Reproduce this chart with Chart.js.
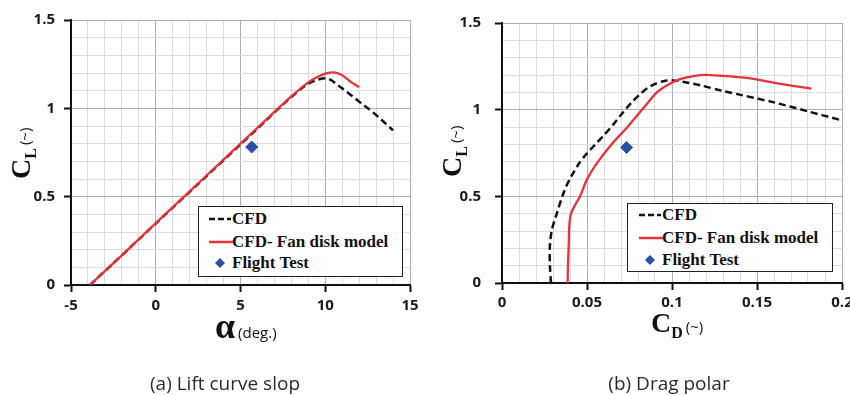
<!DOCTYPE html>
<html>
<head>
<meta charset="utf-8">
<script src="https://cdn.jsdelivr.net/npm/chart.js@4.4.1/dist/chart.umd.min.js"></script>
<style>
  html, body { margin:0; padding:0; background:#fff; width:850px; height:395px; overflow:hidden; position:relative; }
  .wrap { position:absolute; top:0; }
  .t { position:absolute; white-space:nowrap; color:#111; }
  .serif { font-family:"Liberation Serif","DejaVu Serif",serif; font-weight:bold; }
  .sans { font-family:"Open Sans","Noto Sans",sans-serif; }
  .legend { position:absolute; border:1.5px solid #222; background:#fff; box-sizing:border-box; }
  .legend .row { position:absolute; left:0; height:20px; width:100%; }
  .legend .row span { position:absolute; white-space:nowrap; font-family:"Liberation Serif",serif; font-weight:bold; font-size:17px; line-height:20px; color:#111; }
  .legend svg { position:absolute; }
  .cap { position:absolute; font-family:"Open Sans","Noto Sans",sans-serif; font-size:19px; color:#2a2a2a; white-space:nowrap; transform:translateX(-50%); }
</style>
</head>
<body>
<div class="wrap" style="left:0;width:425px;height:320px;"><canvas id="c1" width="425" height="320"></canvas></div>
<div class="wrap" style="left:425px;width:440px;height:320px;"><canvas id="c2" width="440" height="320"></canvas></div>

<!-- axis titles -->
<div class="t" style="left:215px;top:305px;"><span class="serif" style="font-size:36px;">α</span><span class="sans" style="font-size:15px;margin-left:3px;">(deg.)</span></div>
<div class="t" style="left:651px;top:307px;"><span class="serif" style="font-size:28px;">C</span><span class="serif" style="font-size:16px;position:relative;top:6px;">D</span><span class="sans" style="font-size:15px;margin-left:3px;">(~)</span></div>
<div class="t" style="left:-14px;top:128px;transform:rotate(-90deg);transform-origin:50% 50%;width:70px;"><span class="serif" style="font-size:28px;">C</span><span class="serif" style="font-size:16px;position:relative;top:6px;">L</span><span class="sans" style="font-size:15px;margin-left:3px;">(~)</span></div>
<div class="t" style="left:417px;top:126px;transform:rotate(-90deg);transform-origin:50% 50%;width:70px;"><span class="serif" style="font-size:28px;">C</span><span class="serif" style="font-size:16px;position:relative;top:6px;">L</span><span class="sans" style="font-size:15px;margin-left:3px;">(~)</span></div>

<!-- legends -->
<div class="legend" style="left:198px;top:206px;width:205px;height:71px;">
  <div class="row" style="top:2px;"><svg width="30" height="20" style="left:8px;top:0"><line x1="2" y1="10" x2="24" y2="10" stroke="#111" stroke-width="2.5" stroke-dasharray="6,3"/></svg><span style="left:33px;">CFD</span></div>
  <div class="row" style="top:25px;"><svg width="30" height="20" style="left:8px;top:0"><line x1="2" y1="10" x2="26" y2="10" stroke="#e8323c" stroke-width="2.5"/></svg><span style="left:33px;">CFD- Fan disk model</span></div>
  <div class="row" style="top:46px;"><svg width="30" height="20" style="left:8px;top:0"><polygon points="13,5 18,10 13,15 8,10" fill="#2b4fa3"/></svg><span style="left:33px;">Flight Test</span></div>
</div>
<div class="legend" style="left:627px;top:203px;width:206px;height:69px;">
  <div class="row" style="top:1px;"><svg width="30" height="20" style="left:8px;top:0"><line x1="3" y1="10" x2="25" y2="10" stroke="#111" stroke-width="2.5" stroke-dasharray="6,3"/></svg><span style="left:34px;">CFD</span></div>
  <div class="row" style="top:24px;"><svg width="30" height="20" style="left:8px;top:0"><line x1="3" y1="10" x2="27" y2="10" stroke="#e8323c" stroke-width="2.5"/></svg><span style="left:34px;">CFD- Fan disk model</span></div>
  <div class="row" style="top:46px;"><svg width="30" height="20" style="left:8px;top:0"><polygon points="14,5 19,10 14,15 9,10" fill="#2b4fa3"/></svg><span style="left:34px;">Flight Test</span></div>
</div>

<div class="cap" style="left:225px;top:370px;">(a) Lift curve slop</div>
<div class="cap" style="left:669px;top:370px;">(b) Drag polar</div>

<script>
// ---------- (a) Lift curve: CL vs alpha ----------
const liftCfdAlpha = [-3.88, -2, 0, 2, 4, 6, 8, 9, 9.5, 10, 11, 12, 13, 14];
const liftCfdCL    = [0, 0.168, 0.348, 0.527, 0.706, 0.885, 1.064, 1.140, 1.160, 1.170, 1.113, 1.038, 0.962, 0.875];
const liftFanAlpha = [-3.88, -2, 0, 2, 4, 6, 8, 9, 9.5, 10, 10.5, 11, 11.5, 12];
const liftFanCL    = [0, 0.168, 0.350, 0.530, 0.710, 0.890, 1.068, 1.147, 1.176, 1.196, 1.204, 1.187, 1.150, 1.120];
const liftFlightAlpha = [5.66];
const liftFlightCL    = [0.781];
const liftXTicks = [-5, 0, 5, 10, 15];
const liftYTicks = [0, 0.5, 1, 1.5];

// ---------- (b) Drag polar: CL vs CD ----------
const polarCfdCD = [0.0288, 0.0282, 0.0281, 0.0292, 0.0322, 0.0357, 0.0380, 0.0410, 0.0449, 0.0494, 0.0545, 0.0597, 0.0653, 0.0704, 0.0763, 0.0822, 0.0880, 0.0949, 0.1008, 0.1086, 0.1165, 0.1300, 0.1600, 0.1800, 0.2000];
const polarCfdCL = [0, 0.10, 0.20, 0.30, 0.40, 0.506, 0.562, 0.619, 0.684, 0.741, 0.796, 0.850, 0.912, 0.975, 1.042, 1.098, 1.139, 1.164, 1.169, 1.157, 1.141, 1.108, 1.042, 0.990, 0.938];
const polarFanCD = [0.0386, 0.0388, 0.0392, 0.0396, 0.0406, 0.0430, 0.0459, 0.0502, 0.0567, 0.0645, 0.0739, 0.0831, 0.0910, 0.0969, 0.1047, 0.1125, 0.1204, 0.1440, 0.1635, 0.1820];
const polarFanCL = [0, 0.10, 0.20, 0.33, 0.40, 0.45, 0.50, 0.602, 0.703, 0.801, 0.901, 1.008, 1.098, 1.139, 1.176, 1.194, 1.201, 1.183, 1.149, 1.122];
const polarFlightCD = [0.0733];
const polarFlightCL = [0.782];
const polarXTicks = [0, 0.05, 0.1, 0.15, 0.2];
const polarYTicks = [0, 0.5, 1, 1.5];

const pts = (xs, ys) => xs.map((x, i) => ({x: x, y: ys[i]}));
const RED = '#e8323c', BLUE = '#2b4fa3';
const near = (v, list) => list.some(t => Math.abs(v - t) < 1e-6);

function axis(min, max, step, majors, opts) {
  return {
    type: 'linear', min: min, max: max,
    border: { color: '#111', width: 2 },
    grid: {
      color: c => near(c.tick.value, majors) ? '#b0b0b0' : '#dcdcdc',
      lineWidth: 1,
      tickLength: 7,
      tickColor: c => near(c.tick.value, majors) ? '#111' : 'rgba(0,0,0,0)',
      tickWidth: 2
    },
    ticks: {
      stepSize: step, autoSkip: false, maxRotation: 0, padding: opts.padding,
      color: '#1a1a1a',
      font: { family: '"Open Sans", "Noto Sans", sans-serif', size: 15, weight: 'bold' },
      callback: v => near(v, majors) ? String(Math.round(v * 1000) / 1000) : ''
    },
    afterFit: opts.fit
  };
}

function makeChart(id, datasets, x, y, padRight, padTop) {
  return new Chart(document.getElementById(id), {
    type: 'scatter',
    data: { datasets: datasets },
    options: {
      responsive: false, animation: false, devicePixelRatio: 1,
      layout: { padding: { top: padTop, right: padRight, left: 0, bottom: 0 } },
      plugins: { legend: { display: false }, tooltip: { enabled: false } },
      scales: { x: x, y: y }
    }
  });
}

function lineSet(label, data, color, dash, width, order, interp) {
  return { label: label, data: data, showLine: true, borderColor: color, backgroundColor: color,
           borderWidth: width, borderDash: dash, pointRadius: 0, order: order,
           tension: interp === 'monotone' ? 0 : 0.3, cubicInterpolationMode: interp === 'monotone' ? 'monotone' : 'default' };
}

makeChart('c1', [
  lineSet('CFD', pts(liftCfdAlpha, liftCfdCL), '#111', [7, 4], 2.5, 2, 'monotone'),
  lineSet('CFD- Fan disk model', pts(liftFanAlpha, liftFanCL), RED, [], 2.3, 1, 'monotone'),
  { label: 'Flight Test', data: pts(liftFlightAlpha, liftFlightCL), pointStyle: 'rectRot', pointRadius: 6,
    backgroundColor: BLUE, borderColor: BLUE, order: 0 }
],
  axis(-5, 15, 1, liftXTicks, { padding: 5, fit: s => { s.height = 35; } }),
  axis(0, 1.5, 0.1, liftYTicks, { padding: 9, fit: s => { s.width = 71; } }),
  15, 20);

makeChart('c2', [
  lineSet('CFD', pts(polarCfdCD, polarCfdCL), '#111', [7, 4], 2.5, 2, 'default'),
  lineSet('CFD- Fan disk model', pts(polarFanCD, polarFanCL), RED, [], 2.3, 1, 'default'),
  { label: 'Flight Test', data: pts(polarFlightCD, polarFlightCL), pointStyle: 'rectRot', pointRadius: 6,
    backgroundColor: BLUE, borderColor: BLUE, order: 0 }
],
  axis(0, 0.2, 0.01, polarXTicks, { padding: 4, fit: s => { s.height = 37; } }),
  axis(0, 1.5, 0.1, polarYTicks, { padding: 14, fit: s => { s.width = 77; } }),
  23, 17);
</script>
</body>
</html>
